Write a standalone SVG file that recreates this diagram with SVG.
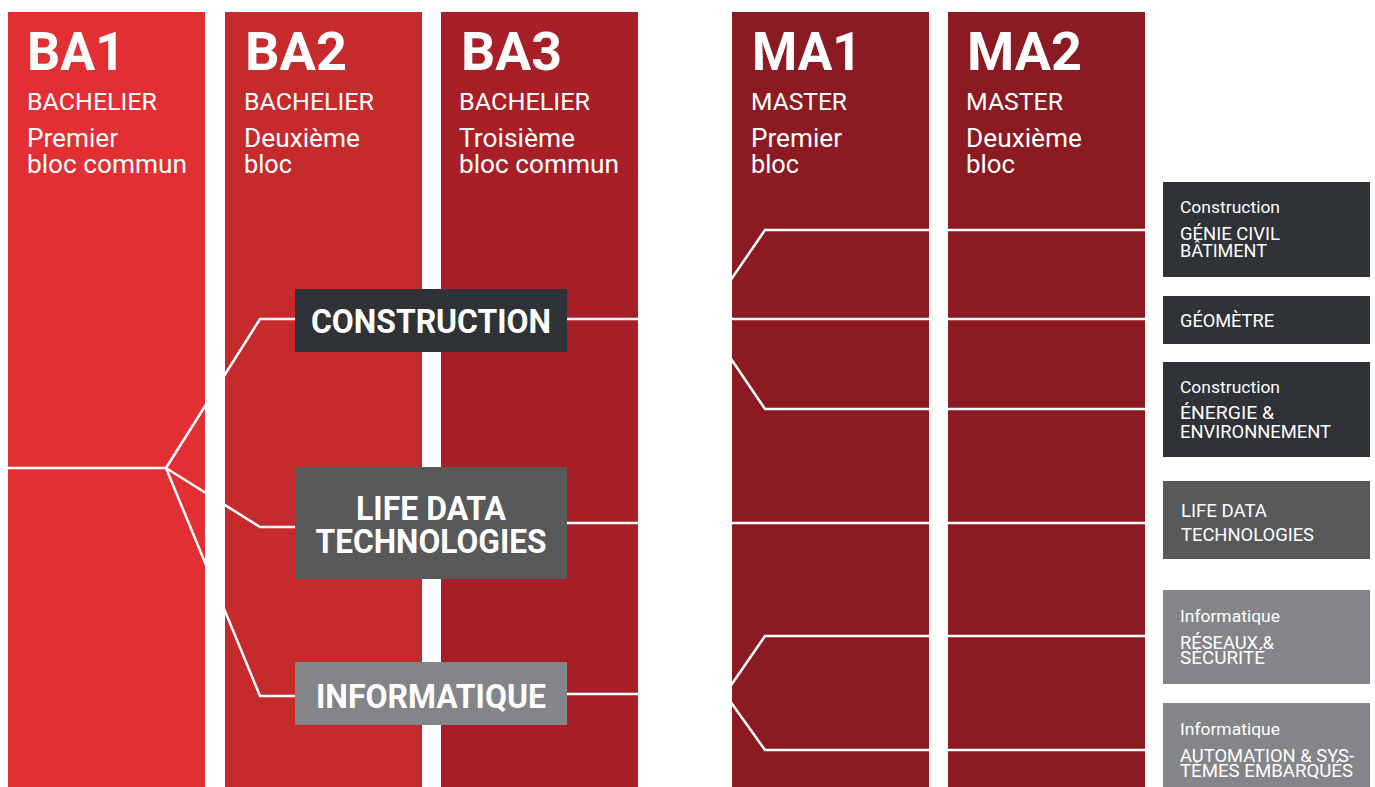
<svg xmlns="http://www.w3.org/2000/svg" width="1375" height="787" viewBox="0 0 1375 787">
<style>
text{font-family:Roboto,"Liberation Sans",Arial,sans-serif;fill:#ffffff}
.big{font-size:53px;font-weight:700}
.sub{font-size:24px}
.desc{font-size:25px}
.box{font-size:34px;font-weight:700;text-anchor:middle}
.sm{font-size:16.5px}
.up{font-size:19px}
.conn{fill:none;stroke:#ffffff;stroke-width:2.5;stroke-linejoin:miter}
</style>
<defs>
<clipPath id="cols">
<rect x="8" y="12" width="197" height="775"/>
<rect x="225" y="12" width="197" height="775"/>
<rect x="441" y="12" width="197" height="775"/>
<rect x="732" y="12" width="197" height="775"/>
<rect x="948" y="12" width="197" height="775"/>
</clipPath>
</defs>
<rect width="1375" height="787" fill="#ffffff"/>

<g id="col-ba1">
<rect x="8" y="12" width="197" height="775" fill="#E12F34"/>
<text class="big" x="27" y="70" textLength="98" lengthAdjust="spacingAndGlyphs">BA1</text>
<text class="sub" x="27" y="110" textLength="130" lengthAdjust="spacingAndGlyphs">BACHELIER</text>
<text class="desc" x="27" y="147" textLength="91" lengthAdjust="spacingAndGlyphs">Premier</text>
<text class="desc" x="27" y="173" textLength="160" lengthAdjust="spacingAndGlyphs">bloc commun</text>
</g>
<g id="col-ba2">
<rect x="225" y="12" width="197" height="775" fill="#C52A2D"/>
<text class="big" x="245" y="70" textLength="102" lengthAdjust="spacingAndGlyphs">BA2</text>
<text class="sub" x="244" y="110" textLength="130" lengthAdjust="spacingAndGlyphs">BACHELIER</text>
<text class="desc" x="244" y="147" textLength="116" lengthAdjust="spacingAndGlyphs">Deuxième</text>
<text class="desc" x="244" y="173" textLength="48" lengthAdjust="spacingAndGlyphs">bloc</text>
</g>
<g id="col-ba3">
<rect x="441" y="12" width="197" height="775" fill="#A81F28"/>
<text class="big" x="461" y="70" textLength="101" lengthAdjust="spacingAndGlyphs">BA3</text>
<text class="sub" x="459" y="110" textLength="131" lengthAdjust="spacingAndGlyphs">BACHELIER</text>
<text class="desc" x="459" y="147" textLength="116" lengthAdjust="spacingAndGlyphs">Troisième</text>
<text class="desc" x="459" y="173" textLength="160" lengthAdjust="spacingAndGlyphs">bloc commun</text>
</g>
<g id="col-ma1">
<rect x="732" y="12" width="197" height="775" fill="#8B1A22"/>
<text class="big" x="752" y="70" textLength="110" lengthAdjust="spacingAndGlyphs">MA1</text>
<text class="sub" x="751" y="110" textLength="96" lengthAdjust="spacingAndGlyphs">MASTER</text>
<text class="desc" x="751" y="147" textLength="91" lengthAdjust="spacingAndGlyphs">Premier</text>
<text class="desc" x="751" y="173" textLength="48" lengthAdjust="spacingAndGlyphs">bloc</text>
</g>
<g id="col-ma2">
<rect x="948" y="12" width="197" height="775" fill="#8B1A22"/>
<text class="big" x="967" y="70" textLength="115" lengthAdjust="spacingAndGlyphs">MA2</text>
<text class="sub" x="966" y="110" textLength="97" lengthAdjust="spacingAndGlyphs">MASTER</text>
<text class="desc" x="966" y="147" textLength="116" lengthAdjust="spacingAndGlyphs">Deuxième</text>
<text class="desc" x="966" y="173" textLength="49" lengthAdjust="spacingAndGlyphs">bloc</text>
</g>

<g id="connectors" clip-path="url(#cols)">
<polyline class="conn" points="8,468 166,468"/>
<polyline class="conn" points="166,468 260,319 296,319"/>
<polyline class="conn" points="166,468 260,527 296,527"/>
<polyline class="conn" points="166,468 260,696 296,696"/>
<polyline class="conn" points="566,319 704,319 1145,319"/>
<polyline class="conn" points="566,523 1145,523"/>
<polyline class="conn" points="566,694 725,694"/>
<polyline class="conn" points="704,319 765,230 1145,230"/>
<polyline class="conn" points="704,319 765,409 1145,409"/>
<polyline class="conn" points="725,694 765,636 1145,636"/>
<polyline class="conn" points="725,694 765,750 1145,750"/>
</g>

<g id="node-construction">
<rect x="295" y="289" width="272" height="63" fill="#2F3236"/>
<text class="box" x="431" y="333" textLength="240" lengthAdjust="spacingAndGlyphs">CONSTRUCTION</text>
</g>
<g id="node-lifedata">
<rect x="295" y="467" width="272" height="112" fill="#58595B"/>
<text class="box" x="431" y="520" textLength="150" lengthAdjust="spacingAndGlyphs">LIFE DATA</text>
<text class="box" x="431" y="553" textLength="231" lengthAdjust="spacingAndGlyphs">TECHNOLOGIES</text>
</g>
<g id="node-informatique">
<rect x="295" y="662" width="272" height="63" fill="#848588"/>
<text class="box" x="431" y="708" textLength="230" lengthAdjust="spacingAndGlyphs">INFORMATIQUE</text>
</g>

<g id="out-genie-civil">
<rect x="1163" y="182" width="207" height="95" fill="#2F3236"/>
<text class="sm" x="1180" y="213" textLength="100" lengthAdjust="spacingAndGlyphs">Construction</text>
<text class="up" x="1180" y="240" textLength="100" lengthAdjust="spacingAndGlyphs">GÉNIE CIVIL</text>
<text class="up" x="1180" y="257" textLength="87" lengthAdjust="spacingAndGlyphs">BÂTIMENT</text>
</g>
<g id="out-geometre">
<rect x="1163" y="296" width="207" height="48" fill="#2F3236"/>
<text class="up" x="1180" y="327" textLength="94" lengthAdjust="spacingAndGlyphs">GÉOMÈTRE</text>
</g>
<g id="out-energie">
<rect x="1163" y="362" width="207" height="95" fill="#2F3236"/>
<text class="sm" x="1180" y="393" textLength="100" lengthAdjust="spacingAndGlyphs">Construction</text>
<text class="up" x="1180" y="419" textLength="94" lengthAdjust="spacingAndGlyphs">ÉNERGIE &amp;</text>
<text class="up" x="1180" y="438" textLength="151" lengthAdjust="spacingAndGlyphs">ENVIRONNEMENT</text>
</g>
<g id="out-lifedata">
<rect x="1163" y="481" width="207" height="78" fill="#58595B"/>
<text class="up" x="1181" y="517" textLength="86" lengthAdjust="spacingAndGlyphs">LIFE DATA</text>
<text class="up" x="1181" y="541" textLength="133" lengthAdjust="spacingAndGlyphs">TECHNOLOGIES</text>
</g>
<g id="out-reseaux">
<rect x="1163" y="590" width="207" height="94" fill="#848588"/>
<text class="sm" x="1180" y="622" textLength="100" lengthAdjust="spacingAndGlyphs">Informatique</text>
<text class="up" x="1180" y="649" textLength="94" lengthAdjust="spacingAndGlyphs">RÉSEAUX &amp;</text>
<text class="up" x="1180" y="664" textLength="85" lengthAdjust="spacingAndGlyphs">SÉCURITÉ</text>
</g>
<g id="out-automation">
<rect x="1163" y="703" width="207" height="84" fill="#848588"/>
<text class="sm" x="1180" y="735" textLength="100" lengthAdjust="spacingAndGlyphs">Informatique</text>
<text class="up" x="1180" y="762" textLength="174" lengthAdjust="spacingAndGlyphs">AUTOMATION &amp; SYS-</text>
<text class="up" x="1180" y="777" textLength="173" lengthAdjust="spacingAndGlyphs">TÈMES EMBARQUÉS</text>
</g>
</svg>
